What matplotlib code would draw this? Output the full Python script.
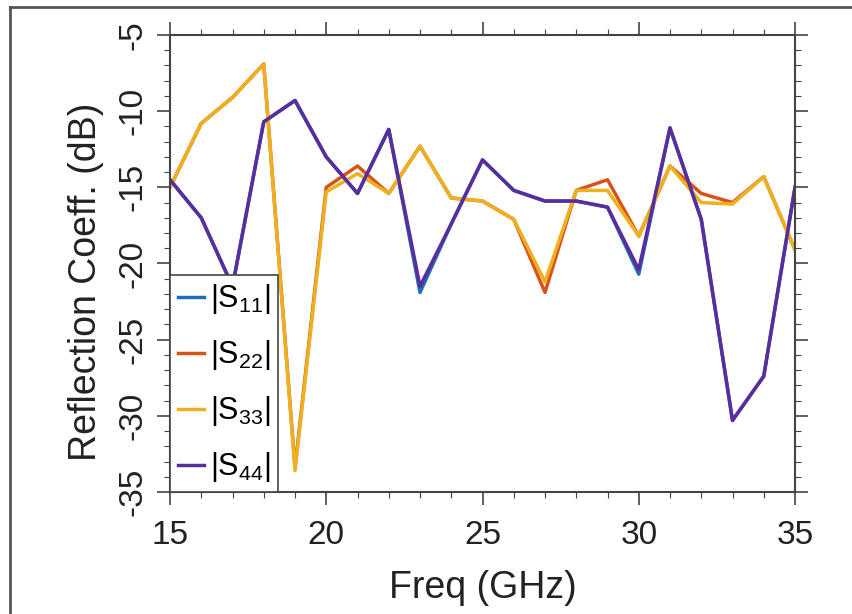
import matplotlib
matplotlib.use("Agg")
import matplotlib.pyplot as plt
from matplotlib.ticker import MultipleLocator
from matplotlib.lines import Line2D

plt.rcParams['font.family'] = ['Liberation Sans', 'DejaVu Sans']
plt.rcParams['mathtext.fontset'] = 'custom'
plt.rcParams['mathtext.rm'] = 'Liberation Sans'
plt.rcParams['mathtext.it'] = 'Liberation Sans'
plt.rcParams['mathtext.default'] = 'regular'
plt.rcParams['axes.unicode_minus'] = False

freq = [15, 16, 17, 18, 19, 20, 21, 22, 23, 24, 25, 26, 27, 28, 29, 30, 31, 32, 33, 34, 35]
s11 = [-14.5, -17.0, -21.5, -10.7, -9.3, -13.0, -15.4, -11.2, -21.9, -17.4, -13.2,
       -15.2, -15.9, -15.9, -16.3, -20.7, -11.1, -17.1, -30.3, -27.4, -15.0]
s22 = [-15.0, -10.8, -9.1, -6.9, -33.4, -15.0, -13.6, -15.4, -12.3, -15.7, -15.9,
       -17.1, -21.9, -15.2, -14.5, -18.2, -13.6, -15.4, -16.0, -14.3, -19.1]
s33 = [-15.0, -10.8, -9.1, -6.9, -33.6, -15.3, -14.1, -15.4, -12.3, -15.7, -15.9,
       -17.1, -21.2, -15.2, -15.2, -18.2, -13.6, -16.0, -16.1, -14.3, -19.1]
s44 = [-14.5, -17.0, -21.5, -10.7, -9.3, -13.0, -15.4, -11.2, -21.5, -17.4, -13.2,
       -15.2, -15.9, -15.9, -16.3, -20.4, -11.1, -17.1, -30.3, -27.4, -15.0]
labels = ['|S$_{11}$|', '|S$_{22}$|', '|S$_{33}$|', '|S$_{44}$|']
colors = ['#1F6FB8', '#D95319', '#EDB120', '#5A2D9C']

fig = plt.figure(figsize=(8.52, 6.14), dpi=100)
ax = fig.add_axes([170/852, 1-492/614, 625/852, 457/614])

for ys, c, lab in zip([s11, s22, s33, s44], colors, labels):
    ax.plot(freq, ys, color=c, lw=2.5, label=lab)

ax.set_xlim(15, 35)
ax.set_ylim(-35, -5)
ax.xaxis.set_major_locator(MultipleLocator(5))
ax.xaxis.set_minor_locator(MultipleLocator(1))
ax.yaxis.set_major_locator(MultipleLocator(5))
ax.yaxis.set_minor_locator(MultipleLocator(1))
ax.tick_params(which='both', direction='out', top=True, right=True,
               colors='#444444', labelcolor='#222222')
ax.tick_params(which='major', length=9.5, width=1.2, labelsize=24)
ax.tick_params(which='minor', length=4, width=0.8)
ax.tick_params(axis='x', which='major', pad=11)
ax.tick_params(axis='y', which='major', labelrotation=90, pad=6)
for lbl in ax.get_yticklabels():
    lbl.set_va('center')
for sp in ax.spines.values():
    sp.set_color('#444444')
    sp.set_linewidth(1.5)

ax.set_xlabel('Freq (GHz)', fontsize=27, color='#222222')
ax.set_ylabel('Reflection Coeff. (dB)', fontsize=27, color='#222222')
ax.xaxis.set_label_coords(0.5, -0.17)
ax.yaxis.set_label_coords(-0.105, 0.46)

leg = ax.legend(loc='lower left', fontsize=22, handlelength=0.85, handletextpad=0.2,
                labelspacing=0.72, borderpad=0.25, borderaxespad=0.0,
                fancybox=False, framealpha=1, edgecolor='#444444')
leg.get_frame().set_linewidth(1.2)

# outer frame lines (top and left)
fig.add_artist(Line2D([10/852, 10/852], [0, 1-7/614], transform=fig.transFigure,
                      color='#555555', lw=2))
fig.add_artist(Line2D([10/852, 1], [1-7/614, 1-7/614], transform=fig.transFigure,
                      color='#555555', lw=2))

fig.savefig('out.png', dpi=100)
